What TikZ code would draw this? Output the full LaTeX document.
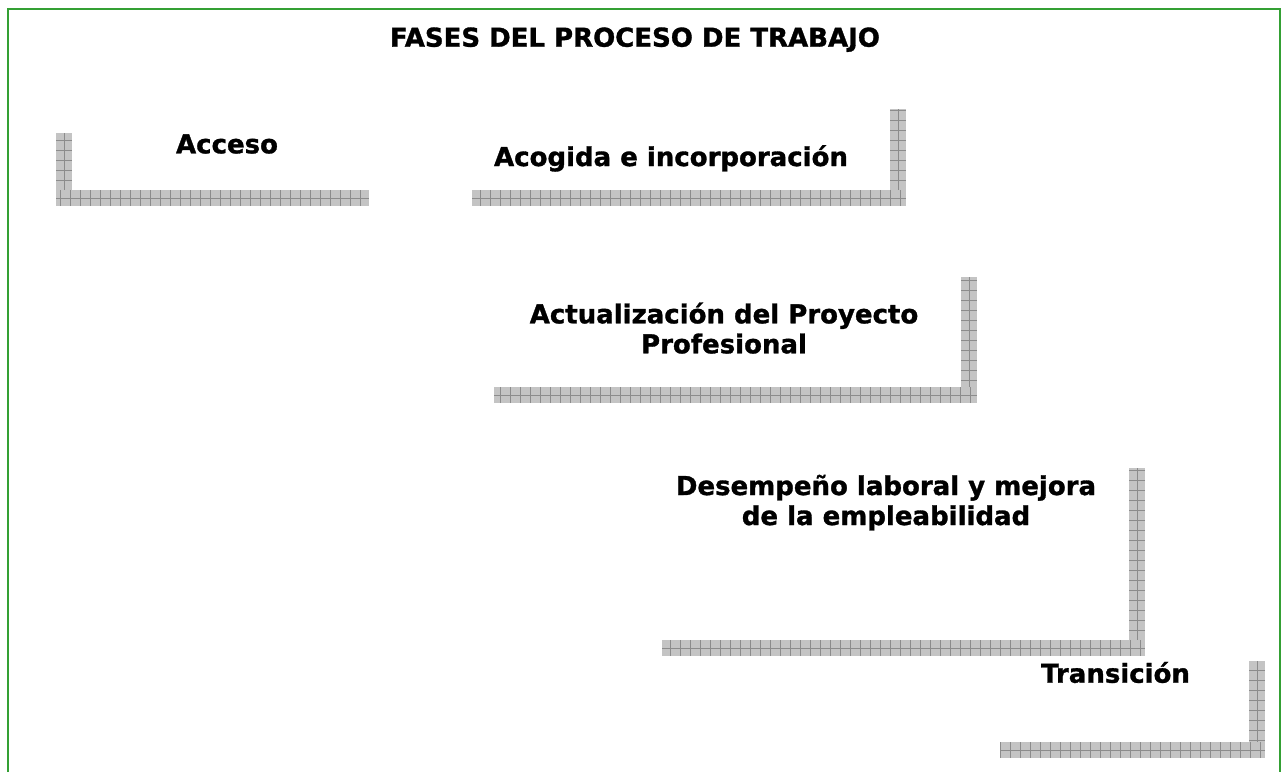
\documentclass[tikz,border=0pt]{standalone}
\usepackage{fontspec}
\setmainfont{DejaVu Sans}[BoldFeatures={FakeBold=1.2}]
\definecolor{framegreen}{RGB}{52,160,52}
\definecolor{barfill}{RGB}{196,196,196}
\definecolor{barline}{RGB}{140,140,140}
\tikzset{
  lbl/.style={font=\fontsize{26}{30}\selectfont\bfseries, inner sep=0pt, anchor=base, align=center, text=black},
  barshape/.style={fill=barfill},
  gridline/.style={draw=barline, line width=0.9pt},
}
% \hbarbox{x1}{y1}{x2}{y2} horizontal piece, \vbarbox vertical piece
\newcommand{\hbarbox}[4]{%
  \fill[barshape] (#1,#2) rectangle (#3,#4);
  \begin{scope}
    \clip (#1,#2) rectangle (#3,#4);
    \draw[gridline, xstep=10pt, ystep=1000pt] (#1,#2) grid (#3,#4);
    \draw[gridline] (#1,{(#2+#4)/2}) -- (#3,{(#2+#4)/2});
  \end{scope}}
\newcommand{\vbarbox}[4]{%
  \fill[barshape] (#1,#2) rectangle (#3,#4);
  \begin{scope}
    \clip (#1,#2) rectangle (#3,#4);
    \draw[gridline, xstep=1000pt, ystep=10pt] (#1,#2) grid (#3,#4);
    \draw[gridline] ({(#1+#3)/2},#2) -- ({(#1+#3)/2},#4);
  \end{scope}}
\begin{document}
\begin{tikzpicture}[x=1pt, y=-1pt]
\useasboundingbox[fill=white] (0,0) rectangle (1284,772);
% frame
\draw[framegreen, line width=2.4pt] (8,772) -- (8,9) -- (1280,9) -- (1280,772);
% title
\node[lbl] (title) at (635,46.7) {FASES DEL PROCESO DE TRABAJO};
% bars
\vbarbox{56}{133}{72}{190}
\hbarbox{56}{190}{369}{206}
\vbarbox{890}{109}{906}{190}
\hbarbox{472}{190}{906}{206}
\vbarbox{961}{277}{977}{387}
\hbarbox{494}{387}{977}{403}
\vbarbox{1129}{468}{1145}{640}
\hbarbox{662}{640}{1145}{656}
\vbarbox{1249}{661}{1265}{742}
\hbarbox{1000}{742}{1265}{758}
% labels
\node[lbl] (acceso) at (227,153.3) {Acceso};
\node[lbl] (acogida) at (671,166) {Acogida e incorporación};
\node[lbl] (actual) at (724,353.3) {Actualización del Proyecto\\Profesional};
\node[lbl] (desemp) at (886,525) {Desempeño laboral y mejora\\de la empleabilidad};
\node[lbl] (trans) at (1115.5,682.7) {Transición};
\end{tikzpicture}
\end{document}
